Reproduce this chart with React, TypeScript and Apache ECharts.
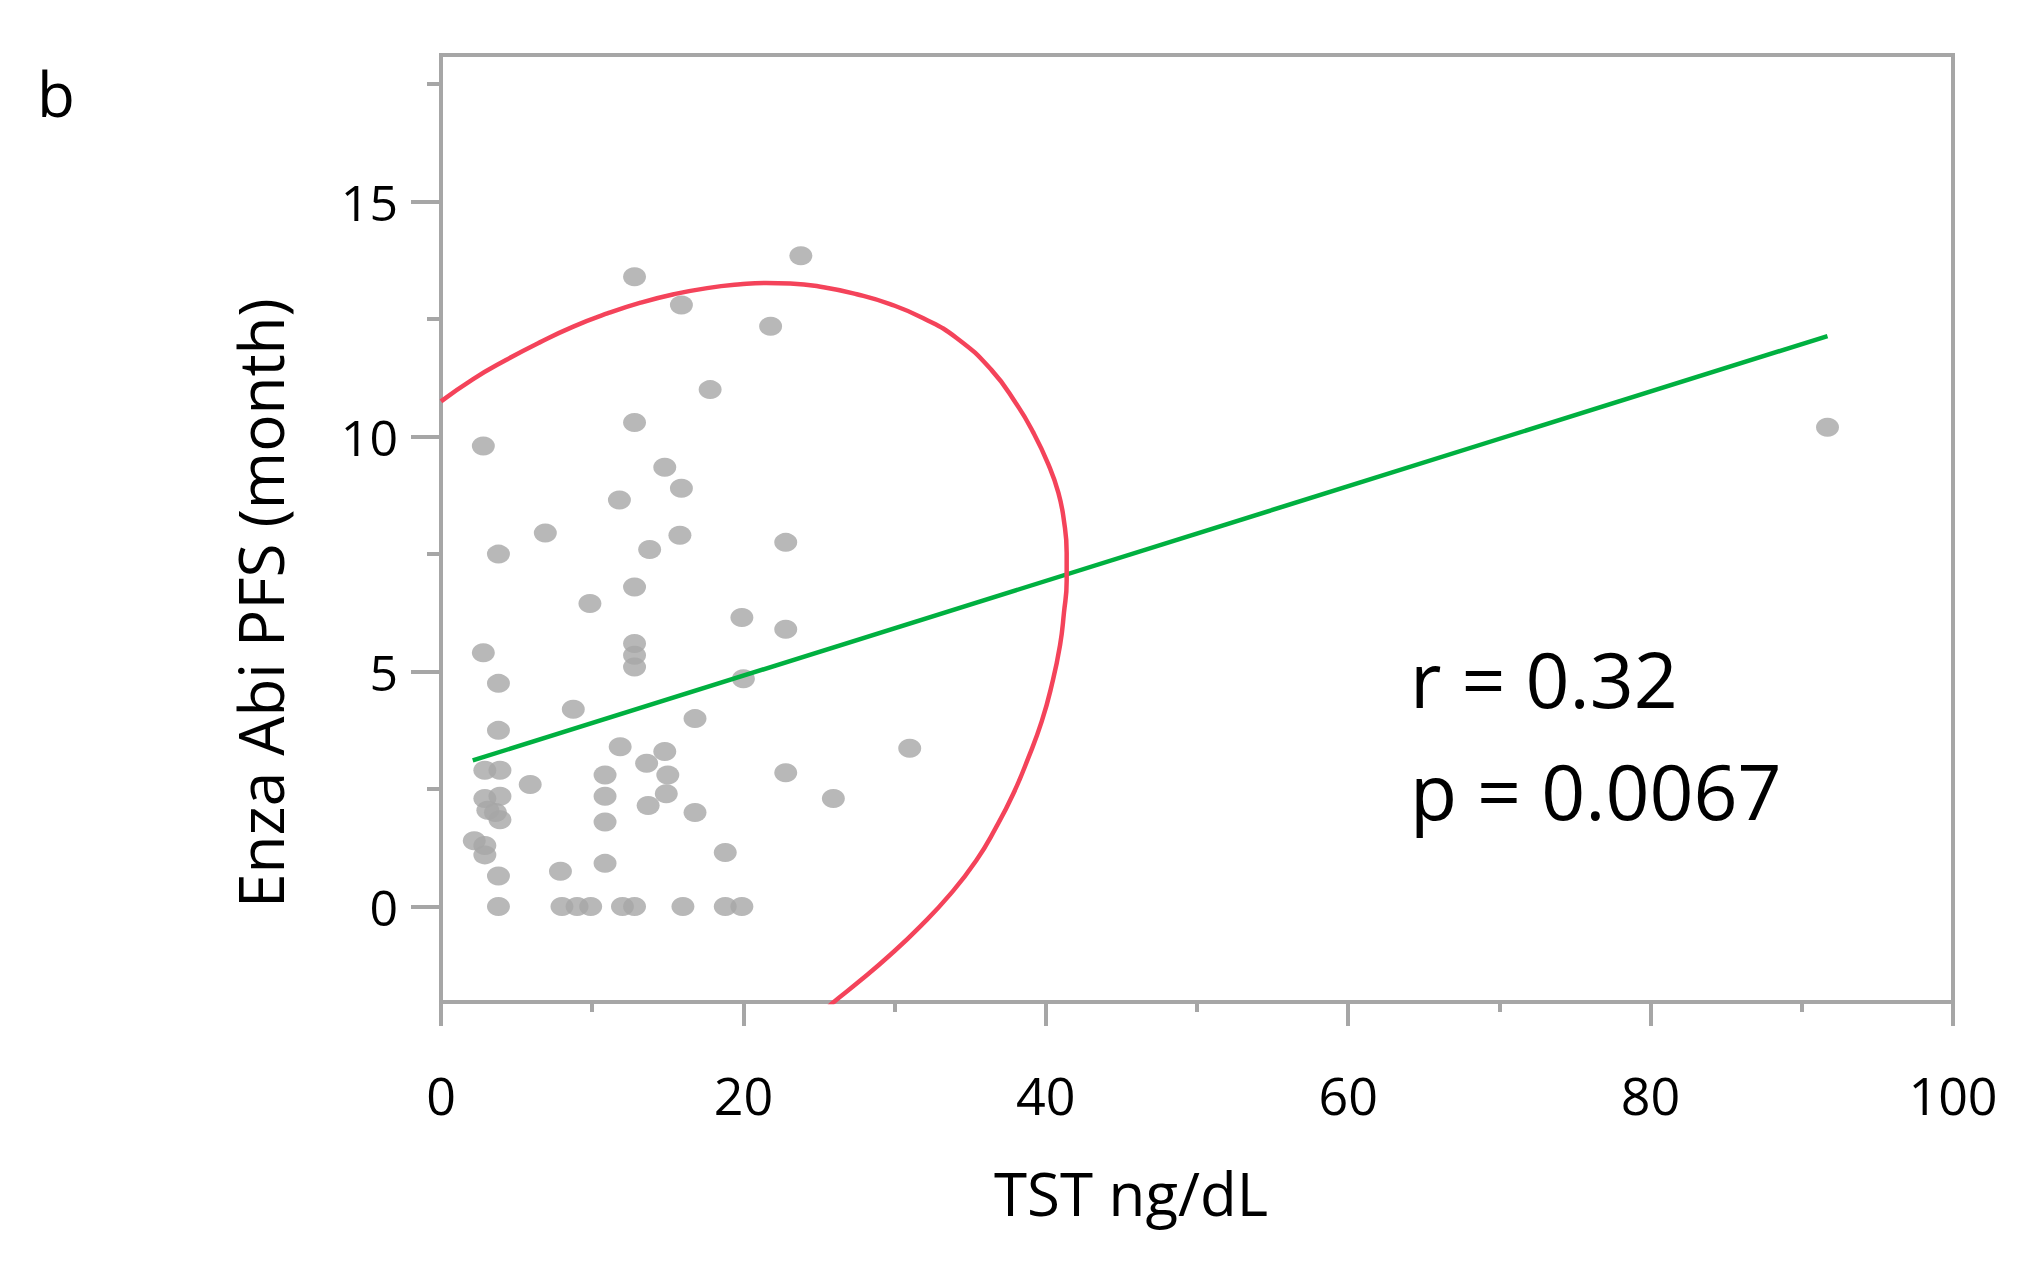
import React, { useEffect, useRef } from "react";
import * as echarts from "echarts";

// TST ng/dL (x) vs Enza Abi PFS in months (y)
const patients: [number, number][] = [
  [12.8, 13.4], [15.9, 12.8], [17.8, 11.0], [12.8, 10.3], [2.8, 9.8], [14.8, 9.35],
  [15.9, 8.9], [11.8, 8.65], [6.9, 7.95], [15.8, 7.9], [23.8, 13.85], [21.8, 12.35],
  [3.8, 7.5], [13.8, 7.6], [22.8, 7.75], [12.8, 6.8], [9.85, 6.45], [19.9, 6.15],
  [22.8, 5.9], [2.8, 5.4], [12.8, 5.6], [12.8, 5.35], [12.8, 5.1], [3.8, 4.75],
  [20.0, 4.85], [8.75, 4.2], [16.8, 4.0], [3.8, 3.75], [11.85, 3.4], [31.0, 3.37],
  [14.8, 3.3], [13.6, 3.05], [15.0, 2.8], [14.9, 2.4], [13.7, 2.15], [22.8, 2.85],
  [5.9, 2.6], [10.85, 2.8], [10.85, 2.35], [10.85, 1.8], [16.8, 2.0], [25.95, 2.3],
  [2.9, 2.9], [3.9, 2.9], [2.9, 2.3], [3.9, 2.35], [3.1, 2.05], [3.6, 2.0], [3.9, 1.85],
  [2.2, 1.4], [2.9, 1.3], [2.9, 1.1], [3.8, 0.65], [7.9, 0.75], [10.85, 0.92], [18.8, 1.15],
  [3.8, 0], [8.0, 0], [9.0, 0], [9.9, 0], [12.0, 0], [12.8, 0], [16.0, 0], [18.8, 0], [19.9, 0],
  [91.7, 10.2],
];

// regression line (green)
const fitLine: [number, number][] = [
  [2.1, 3.11],
  [91.7, 12.14],
];

// density ellipse (red), points read along the visible arc
const ellipseArc: [number, number][] = [
  [0, 10.75], [2.1, 11.22], [4.3, 11.63], [6.5, 12.0], [8.75, 12.34], [11.0, 12.62],
  [13.2, 12.85], [15.4, 13.03], [17.6, 13.16], [19.8, 13.24], [21.5, 13.27], [23.1, 13.26],
  [25.3, 13.18], [27.5, 13.03], [29.7, 12.82], [31.9, 12.52], [34.1, 12.1], [36.4, 11.42],
  [38.07, 10.69], [39.17, 10.09], [40.17, 9.41], [40.83, 8.81], [41.2, 8.21], [41.38, 7.53],
  [41.38, 6.93], [41.2, 6.25], [40.94, 5.56], [40.39, 4.71], [39.73, 3.94], [38.85, 3.17],
  [37.85, 2.4], [36.7, 1.68], [35.4, 0.98], [33.7, 0.27], [31.7, -0.42], [29.7, -1.03],
  [27.71, -1.58], [25.9, -2.05], [25.6, -2.15],
];

const xMin = 0;
const xMax = 100;
const xInterval = 20;
const yMin = -2.03;
const yMax = 18.12;
const yMajorTicks = [0, 5, 10, 15];
const yMinorTicks = [2.5, 7.5, 12.5, 17.5];

const panelLabel = "b";
const xTitle = "TST ng/dL";
const yTitle = "Enza Abi PFS (month)";
const statR = "r = 0.32";
const statP = "p = 0.0067";

const FONT = '"Open Sans", "Noto Sans", sans-serif';
const AXIS_GRAY = "#a6a6a6";

export default function App() {
  const ref = useRef<HTMLDivElement>(null);

  useEffect(() => {
    if (!ref.current) return;
    const chart = echarts.init(ref.current, null, { renderer: "svg" });
    const tickLine = { color: AXIS_GRAY, width: 4 };
    const option: any = {
      animation: false,
      backgroundColor: "#ffffff",
      grid: {
        left: 441,
        top: 55,
        right: 90,
        bottom: 268,
        show: true,
        borderColor: AXIS_GRAY,
        borderWidth: 4,
        backgroundColor: "transparent",
      },
      xAxis: {
        type: "value",
        min: xMin,
        max: xMax,
        interval: xInterval,
        axisLine: { show: true, onZero: false, lineStyle: tickLine },
        axisTick: { show: true, length: 24, lineStyle: tickLine },
        minorTick: { show: true, splitNumber: 2, length: 10, lineStyle: tickLine },
        splitLine: { show: false },
        minorSplitLine: { show: false },
        axisLabel: { fontSize: 52, fontFamily: FONT, color: "#000", margin: 66 },
      },
      yAxis: [
        {
          type: "value",
          min: yMin,
          max: yMax,
          axisLine: { show: true, onZero: false, lineStyle: tickLine },
          axisTick: { show: true, length: 30, lineStyle: tickLine, customValues: yMajorTicks },
          axisLabel: {
            fontSize: 50,
            fontFamily: FONT,
            color: "#000",
            margin: 43,
            padding: [0, 0, 10, 0],
            customValues: yMajorTicks,
          },
          splitLine: { show: false },
        },
        {
          type: "value",
          min: yMin,
          max: yMax,
          position: "left",
          offset: 0,
          axisLine: { show: false },
          axisTick: { show: true, length: 14, lineStyle: tickLine, customValues: yMinorTicks },
          axisLabel: { show: false },
          splitLine: { show: false },
        },
      ],
      series: [
        {
          type: "scatter",
          data: patients,
          symbol: "circle",
          symbolSize: [23, 19],
          itemStyle: { color: "#a6a6a6" },
          z: 2,
        },
        {
          type: "line",
          data: fitLine,
          showSymbol: false,
          symbol: "none",
          lineStyle: { color: "#00b040", width: 4.5 },
          z: 3,
        },
        {
          type: "line",
          data: ellipseArc,
          smooth: 0.5,
          showSymbol: false,
          symbol: "none",
          lineStyle: { color: "#f4435a", width: 4.5 },
          z: 4,
        },
      ],
      graphic: [
        {
          type: "text",
          x: 37,
          y: 93,
          style: { text: panelLabel, font: `62px ${FONT}`, fill: "#000", align: "left", verticalAlign: "middle" },
        },
        {
          type: "text",
          x: 1410,
          y: 678,
          style: { text: statR, font: `77px ${FONT}`, fill: "#000", align: "left", verticalAlign: "middle" },
        },
        {
          type: "text",
          x: 1410,
          y: 790,
          style: { text: statP, font: `77px ${FONT}`, fill: "#000", align: "left", verticalAlign: "middle" },
        },
        {
          type: "text",
          x: 1131,
          y: 1193,
          style: { text: xTitle, font: `60px ${FONT}`, fill: "#000", align: "center", verticalAlign: "middle" },
        },
        {
          type: "text",
          x: 260,
          y: 603,
          rotation: Math.PI / 2,
          style: { text: yTitle, font: `62px ${FONT}`, fill: "#000", align: "center", verticalAlign: "middle" },
        },
      ],
    };
    chart.setOption(option);
    return () => chart.dispose();
  }, []);

  return (
    <div
      ref={ref}
      style={{ position: "fixed", left: 0, top: 0, width: 2043, height: 1270, background: "#fff" }}
    />
  );
}
